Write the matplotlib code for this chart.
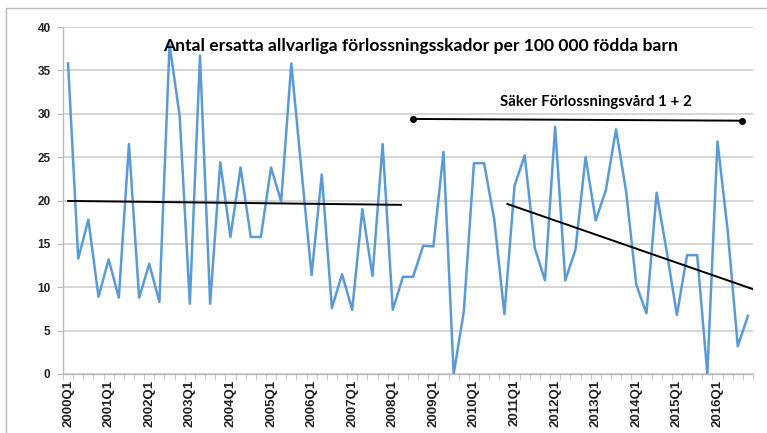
import matplotlib.pyplot as plt
from matplotlib.patches import Rectangle

# kvartal 2000Q1 - 2016Q4
kvartal = [f"{ar}Q{q}" for ar in range(2000, 2017) for q in range(1, 5)]

skador = [
    35.8, 13.3, 17.8, 8.9, 13.2, 8.8, 26.5, 8.8, 12.7, 8.3, 38.0, 29.7,
    8.1, 36.7, 8.1, 24.4, 15.8, 23.8, 15.8, 15.8, 23.8, 19.9, 35.8, 23.5,
    11.4, 23.0, 7.6, 11.5, 7.4, 19.0, 11.3, 26.5, 7.4, 11.2, 11.2, 14.8,
    14.7, 25.6, 0.0, 7.2, 24.3, 24.3, 17.8, 6.9, 21.7, 25.2, 14.5, 10.8,
    28.5, 10.8, 14.3, 25.0, 17.7, 21.2, 28.2, 21.0, 10.3, 7.0, 20.9, 14.1,
    6.8, 13.7, 13.7, 0.0, 26.8, 16.6, 3.2, 6.7,
]

# trendlinjer (start/slut som kvartalsindex och värde)
trend_fore_x = [0, 32.8]
trend_fore_y = [19.95, 19.5]
trend_efter_x = [43.3, 67.7]
trend_efter_y = [19.6, 9.7]

# period Säker Förlossningsvård
sfv_x = [34.0, 66.4]
sfv_y = [29.4, 29.2]

W, H = 767, 433
fig = plt.figure(figsize=(W / 100, H / 100), dpi=100)
ax = fig.add_axes([63 / W, 1 - 374 / H, 690 / W, 347 / H])

x = list(range(len(skador)))
ax.plot(x, skador, color='#5B9BD5', linewidth=1.8, zorder=3)
ax.plot(trend_fore_x, trend_fore_y, color='black', linewidth=1.4, zorder=4)
ax.plot(trend_efter_x, trend_efter_y, color='black', linewidth=1.4, zorder=4)
ax.plot(sfv_x, sfv_y, color='black', linewidth=1.4, marker='o', markersize=4, zorder=4)

ax.set_xlim(-0.5, len(skador) - 0.5)
ax.set_ylim(0, 40)
ax.set_yticks(range(0, 41, 5))
ax.yaxis.grid(True, color='#D0D0D0', linewidth=1.2)
ax.set_axisbelow(True)

ax.set_xticks(range(0, len(skador), 4))
ax.set_xticklabels(kvartal[::4], rotation=90, fontsize=9.5, fontweight='bold',
                   color='#222222', family='Liberation Sans')
ax.set_xticks([i + 0.5 for i in range(-1, len(skador))], minor=True)
ax.tick_params(axis='x', which='major', length=0, pad=4)
ax.tick_params(axis='x', which='minor', length=4, color='#BBBBBB', direction='out')
ax.tick_params(axis='y', length=4, color='#BBBBBB', pad=5)
for lab in ax.get_yticklabels():
    lab.set_fontsize(8.5)
    lab.set_fontweight('bold')
    lab.set_color('#222222')
    lab.set_family('Liberation Sans')

for s in ['top', 'right']:
    ax.spines[s].set_visible(False)
for s in ['left', 'bottom']:
    ax.spines[s].set_color('#BBBBBB')
    ax.spines[s].set_linewidth(1)

fig.text(421 / W, 1 - 46 / H, 'Antal ersatta allvarliga förlossningsskador per 100 000 födda barn',
         ha='center', va='center', fontsize=12.6, fontweight='bold', family='Lato')
fig.text(596 / W, 1 - 102 / H, 'Säker Förlossningsvård 1 + 2',
         ha='center', va='center', fontsize=10.8, fontweight='bold', family='Lato')

# ram runt diagramytan
fig.patches.append(Rectangle((6 / W, -0.1), 1.2, 1 - 8 / H + 0.1, transform=fig.transFigure,
                             fill=False, edgecolor='#BBBBBB', linewidth=1))

fig.savefig('out.png', dpi=100)
